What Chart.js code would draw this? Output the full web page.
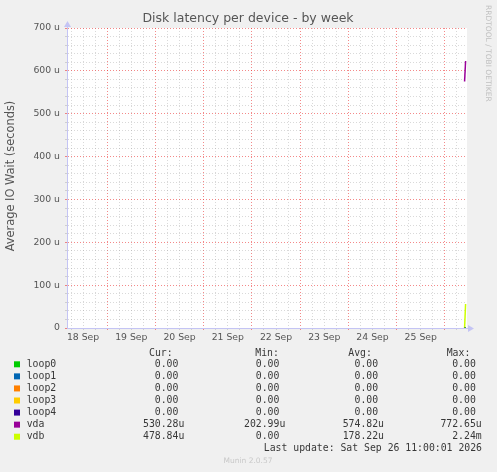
<!DOCTYPE html>
<html>
<head>
<meta charset="utf-8">
<title>Disk latency per device - by week</title>
<script src="https://cdn.jsdelivr.net/npm/chart.js@4.4.1/dist/chart.umd.min.js"></script>
<style>
body{margin:0;background:#f0f0f0;}
canvas{display:block;}
</style>
</head>
<body>
<canvas id="grafico" width="497" height="472"></canvas>
<script>
// x values are hours counted from 18 Sep 00:00
const dayLabels = ['18 Sep','19 Sep','20 Sep','21 Sep','22 Sep','23 Sep','24 Sep','25 Sep'];
const yTickLabels = ['0','100 u','200 u','300 u','400 u','500 u','600 u','700 u'];

const times = [201.8, 202.3];
const loop0 = [0, 0];
const loop1 = [0, 0];
const loop2 = [0, 0];
const loop3 = [0, 0];
const loop4 = [0, 0];
const vda = [575, 623];
const vdb = [0, 56];

const names = ['loop0','loop1','loop2','loop3','loop4','vda','vdb'];
const colors = ['#00CC00','#0066B3','#FF8000','#FFCC00','#330099','#990099','#CCFF00'];
const curVals = ['0.00','0.00','0.00','0.00','0.00','530.28u','478.84u'];
const minVals = ['0.00','0.00','0.00','0.00','0.00','202.99u','0.00'];
const avgVals = ['0.00','0.00','0.00','0.00','0.00','574.82u','178.22u'];
const maxVals = ['0.00','0.00','0.00','0.00','0.00','772.65u','2.24m'];
const lastUpdate = 'Last update: Sat Sep 26 11:00:01 2026';

const series = [loop0, loop1, loop2, loop3, loop4, vda, vdb];

const minorGrid = 'rgba(150,150,150,0.36)';
const majorGrid = 'rgba(235,40,40,0.55)';
const axisColor = '#c4c4f4';

const munin = {
id:'munin',
beforeDraw(chart){
const c = chart.ctx, a = chart.chartArea;
c.save();
c.fillStyle = '#f0f0f0';
c.fillRect(0,0,chart.width,chart.height);
c.fillStyle = '#ffffff';
c.fillRect(a.left,a.top,a.right-a.left,a.bottom-a.top);
c.restore();
},
afterDraw(chart){
const c = chart.ctx, a = chart.chartArea;
c.save();

// axis arrows
c.fillStyle = axisColor;
c.beginPath();
c.moveTo(a.left-3,a.top-1);
c.lineTo(a.left+0.5,a.top-7);
c.lineTo(a.left+4,a.top-1);
c.fill();
c.fillRect(a.left,a.top-2,1,3);
c.beginPath();
c.moveTo(a.right+1,a.bottom-3);
c.lineTo(a.right+7,a.bottom+0.5);
c.lineTo(a.right+1,a.bottom+4);
c.fill();
c.fillRect(a.right-1,a.bottom,3,1);

// title
c.fillStyle = '#555';
c.font = '12.5px "DejaVu Sans"';
c.textAlign = 'center';
c.textBaseline = 'middle';
c.fillText('Disk latency per device - by week',248,18.5);

// y axis title
c.save();
c.translate(11,176);
c.rotate(-Math.PI/2);
c.font = '11.4px "DejaVu Sans"';
c.fillText('Average IO Wait (seconds)',0,0);
c.restore();

// rrdtool credit
c.save();
c.translate(488,5);
c.rotate(Math.PI/2);
c.fillStyle = '#c0c0c0';
c.font = '7.5px "DejaVu Sans"';
c.textAlign = 'left';
c.fillText('RRDTOOL / TOBI OETIKER',0,0);
c.restore();

// legend table
c.font = '9.8px "DejaVu Sans Mono"';
c.fillStyle = '#383838';
c.textAlign = 'left';
c.fillText('Cur:',149,353.3);
c.fillText('Min:',255.3,353.3);
c.fillText('Avg:',348.3,353.3);
c.fillText('Max:',446.7,353.3);

const cols = [curVals, minVals, avgVals, maxVals];
const colRight = [184.3, 285.3, 384, 481.7];
names.forEach((n,i)=>{
const y = 364.3 + i*12.07;
c.fillStyle = colors[i];
c.fillRect(14,y-3,6,6);
c.fillStyle = '#383838';
c.textAlign = 'left';
c.fillText(n,26.7,y);
c.textAlign = 'right';
cols.forEach((col,k)=>{
let v = col[i];
if(!/[a-z]$/.test(v)) v = v + ' ';
c.fillText(v,colRight[k],y);
});
});
c.textAlign = 'right';
c.fillText(lastUpdate,482,448.3);

c.fillStyle = '#c8c8c8';
c.font = '7.5px "DejaVu Sans"';
c.textAlign = 'center';
c.fillText('Munin 2.0.57',248,461);
c.restore();
}
};

const ctx = document.getElementById('grafico');

new Chart(ctx,{
type:'line',
data:{
datasets: series.map((s,i)=>({
label:names[i],
data:times.map((t,j)=>({x:t,y:s[j]})),
borderColor:colors[i],
backgroundColor:colors[i],
borderWidth:1.5,
pointRadius:0,
fill:false,
tension:0
}))
},
options:{
responsive:false,
animation:false,
events:[],
layout:{padding:{top:28,right:30,bottom:124,left:0}},
plugins:{legend:{display:false},tooltip:{enabled:false},title:{display:false}},
scales:{
x:{
type:'linear',
min:4,
max:203,
afterFit(s){ s.height = 20; },
afterBuildTicks(s){
const t = [];
for(let h=6; h<203; h+=6) t.push({value:h});
s.ticks = t;
},
ticks:{
autoSkip:false,
maxRotation:0,
padding:2,
color:'#555',
font:{family:'DejaVu Sans',size:9.3},
callback(v){ return (v % 24 === 12) ? dayLabels[(v-12)/24] : ''; }
},
grid:{
color(c){ return c.tick && c.tick.value % 24 === 0 ? majorGrid : minorGrid; },
tickLength:2,
tickBorderDash:[]
},
border:{display:true,color:axisColor,width:1,dash:[1,2]}
},
y:{
min:0,
max:700,
afterFit(s){ s.width = 67; },
afterBuildTicks(s){
const t = [];
for(let v=0; v<=700; v+=20) t.push({value:v});
s.ticks = t;
},
ticks:{
autoSkip:false,
padding:5,
color:'#555',
font:{family:'DejaVu Sans',size:9.3},
callback(v){ return (v % 100 === 0) ? yTickLabels[v/100] : ''; }
},
grid:{
color(c){ return c.tick && c.tick.value % 100 === 0 ? majorGrid : minorGrid; },
tickLength:2,
tickBorderDash:[]
},
border:{display:true,color:axisColor,width:1,dash:[1,2]}
}
}
},
plugins:[munin]
});
</script>
</body>
</html>
